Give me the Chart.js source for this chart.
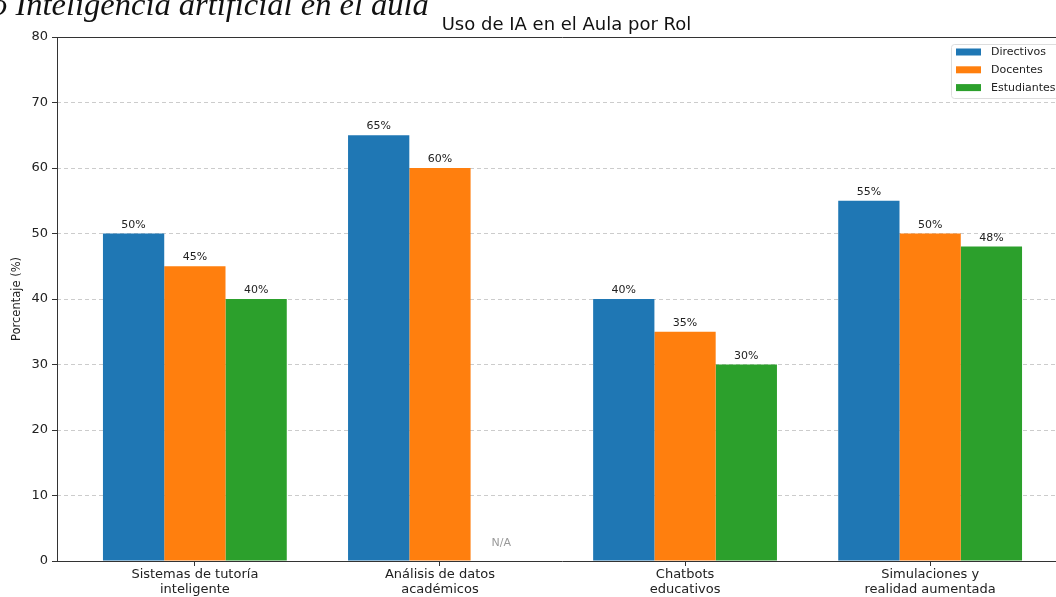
<!DOCTYPE html>
<html lang="es">
<head>
  <meta charset="UTF-8" />
  <title>Uso de IA en el Aula por Rol</title>
  <script src="https://cdn.jsdelivr.net/npm/chart.js"></script>
  <style>
    html, body { margin: 0; padding: 0; overflow: hidden; background: #fff; }
    #wrap { position: relative; width: 1080px; height: 597px; }
    #encabezado {
      position: absolute; left: -45px; top: -12px; margin: 0; line-height: 1;
      font-family: "Liberation Serif", serif; font-style: italic; font-weight: normal;
      font-size: 32.5px; color: #111; white-space: nowrap; z-index: 2;
    }
    canvas { position: absolute; left: 0; top: 0; }
  </style>
</head>
<body>
  <div id="wrap">
    <h1 id="encabezado">Uso Inteligencia artificial en el aula</h1>
    <canvas id="grafico" width="1080" height="597"></canvas>
  </div>

  <script>
    // datos
    const categorias = [
      ['Sistemas de tutoría', 'inteligente'],
      ['Análisis de datos', 'académicos'],
      ['Chatbots', 'educativos'],
      ['Simulaciones y', 'realidad aumentada']
    ];
    const roles = ['Directivos', 'Docentes', 'Estudiantes'];
    const directivos = [50, 65, 40, 55];
    const docentes = [45, 60, 35, 50];
    const estudiantes = [40, null, 30, 48];
    const colores = ['#1f77b4', '#ff7f0e', '#2ca02c'];
    const ticksY = [0, 10, 20, 30, 40, 50, 60, 70, 80];

    const FUENTE = '"DejaVu Sans", sans-serif';
    const series = [directivos, docentes, estudiantes];

    // etiquetas de valor, N/A, ejes, título y leyenda
    const extras = {
      id: 'extras',
      afterDatasetsDraw(chart) {
        const { ctx, chartArea: a } = chart;
        const y = chart.scales.y;
        ctx.save();
        ctx.textAlign = 'center';
        ctx.textBaseline = 'bottom';
        series.forEach((vals, d) => {
          const meta = chart.getDatasetMeta(d);
          vals.forEach((v, i) => {
            const bar = meta.data[i];
            ctx.font = '11px ' + FUENTE;
            if (v === null) {
              ctx.fillStyle = '#999';
              ctx.fillText('N/A', bar.x, y.getPixelForValue(2) + 1);
            } else {
              ctx.fillStyle = '#222';
              ctx.fillText(v + '%', bar.x, y.getPixelForValue(v + 0.5));
            }
          });
        });

        // marco
        ctx.strokeStyle = '#333';
        ctx.lineWidth = 1;
        ctx.beginPath();
        ctx.moveTo(a.left + 0.5, a.bottom);
        ctx.lineTo(a.left + 0.5, a.top);
        ctx.moveTo(a.left, a.top + 0.5);
        ctx.lineTo(a.right, a.top + 0.5);
        ctx.moveTo(a.left, a.bottom + 0.5);
        ctx.lineTo(a.right, a.bottom + 0.5);
        ctx.stroke();

        // título
        ctx.fillStyle = '#111';
        ctx.font = '18px ' + FUENTE;
        ctx.textBaseline = 'alphabetic';
        ctx.fillText('Uso de IA en el Aula por Rol', (a.left + a.right) / 2 + 4, a.top - 7);

        // leyenda
        const lx = 951, ly = 44, lw = 112, lh = 54;
        ctx.fillStyle = 'rgba(255,255,255,0.8)';
        ctx.strokeStyle = '#ddd';
        ctx.beginPath();
        ctx.roundRect(lx + 0.5, ly + 0.5, lw, lh, 3);
        ctx.fill();
        ctx.stroke();
        ctx.font = '11px ' + FUENTE;
        ctx.textAlign = 'left';
        ctx.textBaseline = 'middle';
        roles.forEach((r, i) => {
          const cy = ly + 8 + i * 17.8;
          ctx.fillStyle = colores[i];
          ctx.fillRect(lx + 5, cy - 3.5, 25, 7);
          ctx.fillStyle = '#222';
          ctx.fillText(r, lx + 40, cy + 0.5);
        });
        ctx.restore();
      }
    };

    new Chart(document.getElementById('grafico'), {
      type: 'bar',
      data: {
        datasets: roles.map((r, d) => ({
          label: r,
          data: series[d].map((v, i) => ({ x: i, y: v })),
          backgroundColor: colores[d],
          categoryPercentage: 0.75,
          barPercentage: 1.0
        }))
      },
      options: {
        responsive: false,
        animation: false,
        layout: { padding: { top: 37, right: 12, left: 0, bottom: 0 } },
        plugins: { legend: { display: false }, tooltip: { enabled: false } },
        scales: {
          x: {
            type: 'linear',
            min: -0.5625,
            max: 3.5625,
            offset: false,
            afterBuildTicks: s => { s.ticks = categorias.map((c, i) => ({ value: i })); },
            afterFit: s => { s.height = 36; },
            grid: { offset: false, drawOnChartArea: false, drawTicks: true, tickLength: 5, tickColor: '#333' },
            border: { display: false },
            ticks: {
              autoSkip: false,
              maxRotation: 0,
              padding: 1,
              color: '#222',
              font: { family: FUENTE, size: 13, lineHeight: 1.15 },
              callback: v => categorias[v]
            }
          },
          y: {
            min: 0,
            max: 80,
            afterBuildTicks: s => { s.ticks = ticksY.map(v => ({ value: v })); },
            afterFit: s => { s.width = 57; },
            grid: {
              color: c => (c.tick && (c.tick.value === 0 || c.tick.value === 80)) ? 'rgba(0,0,0,0)' : '#cccccc',
              tickColor: '#333',
              tickLength: 5,
              lineWidth: 1
            },
            border: { display: false, dash: [4, 3] },
            ticks: {
              padding: 4,
              color: '#222',
              font: { family: FUENTE, size: 13 }
            },
            title: {
              display: true,
              text: 'Porcentaje (%)',
              color: '#222',
              font: { family: FUENTE, size: 11.5 },
              padding: { top: 10, bottom: 0 }
            }
          }
        }
      },
      plugins: [extras]
    });
  </script>
</body>
</html>
